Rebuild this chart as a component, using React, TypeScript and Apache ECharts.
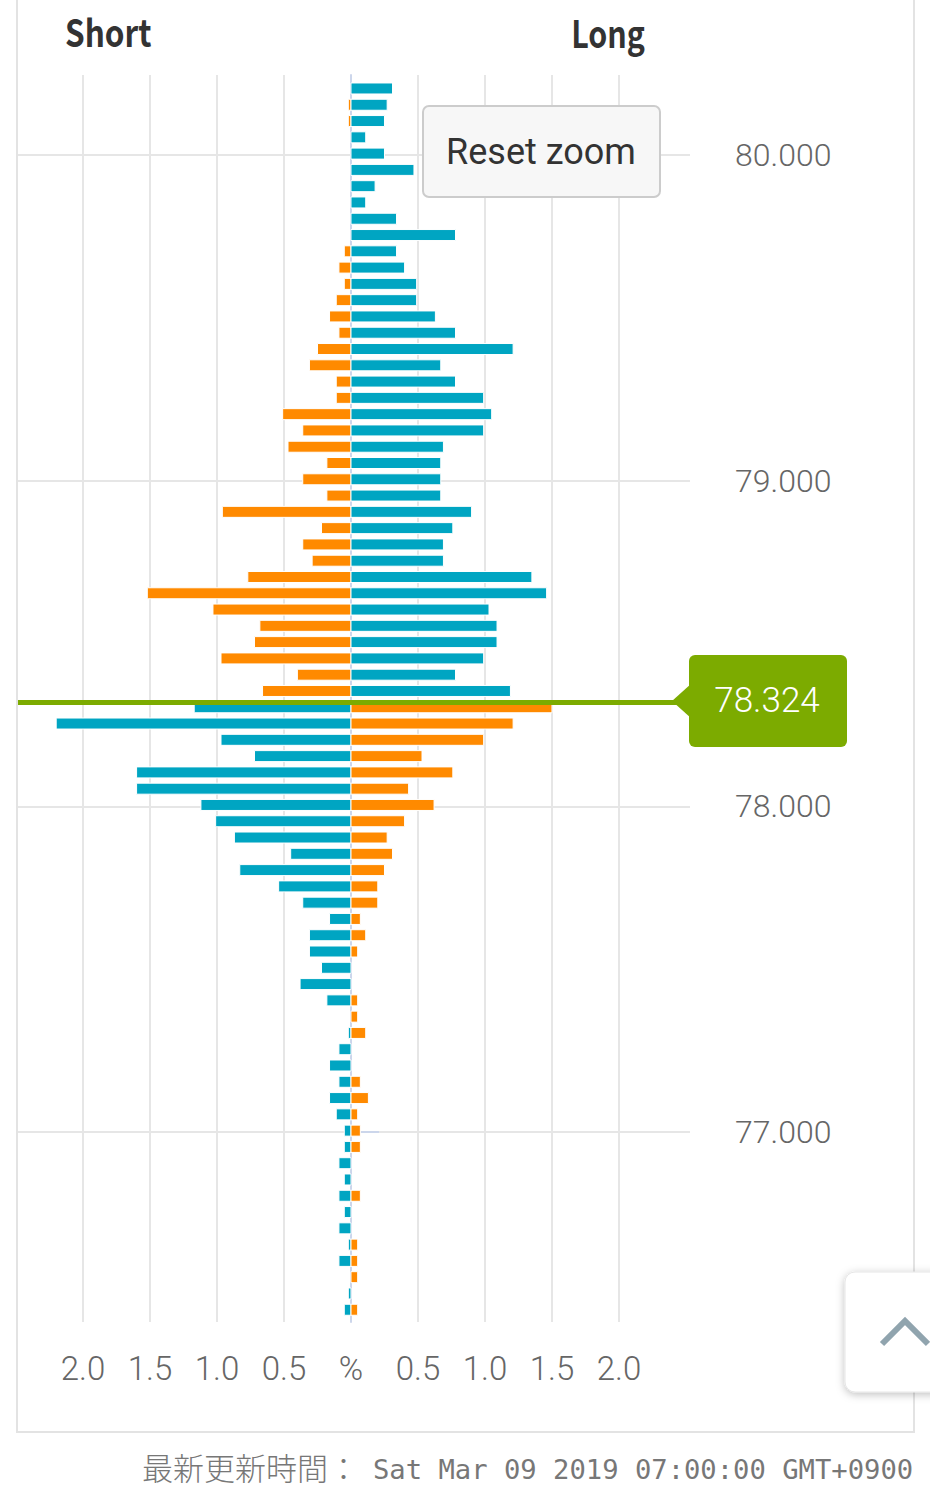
import React, { useEffect, useRef } from "react";
import * as echarts from "echarts";

// Price buckets (descending), 0.05 step
const PRICES = [
  80.2, 80.15, 80.1, 80.05, 80.0, 79.95, 79.9, 79.85, 79.8, 79.75,
  79.7, 79.65, 79.6, 79.55, 79.5, 79.45, 79.4, 79.35, 79.3, 79.25,
  79.2, 79.15, 79.1, 79.05, 79.0, 78.95, 78.9, 78.85, 78.8, 78.75,
  78.7, 78.65, 78.6, 78.55, 78.5, 78.45, 78.4, 78.35, 78.3, 78.25,
  78.2, 78.15, 78.1, 78.05, 78.0, 77.95, 77.9, 77.85, 77.8, 77.75,
  77.7, 77.65, 77.6, 77.55, 77.5, 77.45, 77.4, 77.35, 77.3, 77.25,
  77.2, 77.15, 77.1, 77.05, 77.0, 76.95, 76.9, 76.85, 76.8, 76.75,
  76.7, 76.65, 76.6, 76.55, 76.5, 76.45,
];

// Short positions (%), same order as PRICES
const SHORT = [
  0, 0.02, 0.02, 0, 0, 0, 0, 0, 0, 0,
  0.05, 0.09, 0.05, 0.11, 0.16, 0.09, 0.25, 0.31, 0.11, 0.11,
  0.51, 0.36, 0.47, 0.18, 0.36, 0.18, 0.96, 0.22, 0.36, 0.29,
  0.77, 1.52, 1.03, 0.68, 0.72, 0.97, 0.4, 0.66, 1.17, 2.2,
  0.97, 0.72, 1.6, 1.6, 1.12, 1.01, 0.87, 0.45, 0.83, 0.54,
  0.36, 0.16, 0.31, 0.31, 0.22, 0.38, 0.18, 0, 0.02, 0.09,
  0.16, 0.09, 0.16, 0.11, 0.05, 0.05, 0.09, 0.05, 0.09, 0.05,
  0.09, 0.02, 0.09, 0, 0.02, 0.05,
];

// Long positions (%), same order as PRICES
const LONG = [
  0.31, 0.27, 0.25, 0.11, 0.25, 0.47, 0.18, 0.11, 0.34, 0.78,
  0.34, 0.4, 0.49, 0.49, 0.63, 0.78, 1.21, 0.67, 0.78, 0.99,
  1.05, 0.99, 0.69, 0.67, 0.67, 0.67, 0.9, 0.76, 0.69, 0.69,
  1.35, 1.46, 1.03, 1.09, 1.09, 0.99, 0.78, 1.19, 1.5, 1.21,
  0.99, 0.53, 0.76, 0.43, 0.62, 0.4, 0.27, 0.31, 0.25, 0.2,
  0.2, 0.07, 0.11, 0.05, 0, 0, 0.05, 0.05, 0.11, 0,
  0, 0.07, 0.13, 0.05, 0.07, 0.07, 0, 0, 0.07, 0,
  0, 0.05, 0.05, 0.05, 0, 0.05,
];

const CURRENT_PRICE = 78.324;
const X_TICKS = [-2, -1.5, -1, -0.5, 0, 0.5, 1, 1.5, 2];
const Y_TICKS = [77, 78, 79, 80];
const TITLES = ["Short", "Long"];
const RESET_LABEL = "Reset zoom";
const FOOTER_LABEL = "最新更新時間：";
const FOOTER_TIME = "Sat Mar 09 2019 07:00:00 GMT+0900";

const BLUE = "#00a5c2";
const ORANGE = "#ff8a00";
const GREEN = "#7cab00";
const GRID_COLOR = "#e6e6e6";
const AXIS_COLOR = "#ccd6eb";
const LABEL_COLOR = "#666666";

export default function App() {
  const ref = useRef<HTMLDivElement>(null);

  useEffect(() => {
    document.body.style.margin = "0";
    const chart = echarts.init(ref.current!, null, { renderer: "svg" });

    const makeRender = (side: "short" | "long") => (params: any, api: any) => {
      const v = api.value(0) as number;
      const p = api.value(1) as number;
      if (!v) return null;
      const a = api.coord([0, p]);
      const b = api.coord([v, p]);
      const h = 11;
      const above = p > CURRENT_PRICE;
      const fill =
        side === "short" ? (above ? ORANGE : BLUE) : above ? BLUE : ORANGE;
      return {
        type: "rect",
        shape: {
          x: Math.min(a[0], b[0]),
          y: a[1] - h / 2 - 1.5,
          width: Math.abs(b[0] - a[0]),
          height: h,
        },
        style: { fill, stroke: "#ffffff", lineWidth: 1 },
      };
    };

    chart.setOption({
      animation: false,
      backgroundColor: "#ffffff",
      grid: { left: 18, right: 240, top: 75, bottom: 168, containLabel: false },
      xAxis: {
        type: "value",
        min: -2.485,
        max: 2.53,
        axisLine: { show: false },
        axisTick: { show: false, customValues: X_TICKS },
        splitLine: { show: true, lineStyle: { color: GRID_COLOR, width: 2 } },
        axisLabel: {
          customValues: X_TICKS,
          formatter: (v: number) => (v === 0 ? "%" : Math.abs(v).toFixed(1)),
          fontSize: 33,
          fontFamily: "Roboto",
          fontWeight: 300,
          color: LABEL_COLOR,
          margin: 30,
        },
      },
      yAxis: {
        type: "value",
        position: "right",
        min: 76.417,
        max: 80.246,
        axisLine: { show: true, lineStyle: { color: AXIS_COLOR, width: 2 } },
        axisTick: {
          show: true,
          customValues: Y_TICKS,
          length: 28,
          lineStyle: { color: AXIS_COLOR, width: 2 },
        },
        splitLine: { show: true, lineStyle: { color: GRID_COLOR, width: 2 } },
        axisLabel: {
          customValues: Y_TICKS,
          formatter: (v: number) => v.toFixed(3),
          fontSize: 32,
          fontFamily: "Roboto",
          fontWeight: 300,
          color: LABEL_COLOR,
          margin: 45,
        },
      },
      series: [
        {
          name: "Short",
          type: "custom",
          coordinateSystem: "cartesian2d",
          encode: { x: 0, y: 1 },
          renderItem: makeRender("short"),
          data: PRICES.map((p, i) => [-SHORT[i], p]),
        },
        {
          name: "Long",
          type: "custom",
          coordinateSystem: "cartesian2d",
          encode: { x: 0, y: 1 },
          renderItem: makeRender("long"),
          data: PRICES.map((p, i) => [LONG[i], p]),
          markLine: {
            silent: true,
            symbol: ["none", "none"],
            label: { show: false },
            lineStyle: { color: GREEN, width: 5, type: "solid" },
            data: [{ yAxis: CURRENT_PRICE }],
            z: 10,
          },
        },
      ],
    });

    const py = chart.convertToPixel({ yAxisIndex: 0 }, CURRENT_PRICE) as number;

    chart.setOption({
      graphic: [
        // outer frame
        {
          type: "rect",
          shape: { x: 17, y: -10, width: 897, height: 1442 },
          style: { fill: "none", stroke: "#e3e3e3", lineWidth: 2 },
          z: 1,
        },
        {
          type: "text",
          x: 65,
          y: 31,
          scaleX: 0.83,
          style: {
            text: TITLES[0],
            x: 0,
            y: 0,
            verticalAlign: "middle",
            fontSize: 38,
            fontWeight: "bold",
            fontFamily: "'Noto Sans CJK JP'",
            fill: "#333333",
          },
        },
        {
          type: "text",
          x: 645,
          y: 31,
          scaleX: 0.8,
          style: {
            text: TITLES[1],
            x: 0,
            y: 0,
            align: "right",
            verticalAlign: "middle",
            fontSize: 38,
            fontWeight: "bold",
            fontFamily: "'Noto Sans CJK JP'",
            fill: "#333333",
          },
        },
        // reset zoom button
        {
          type: "rect",
          shape: { x: 423, y: 106, width: 237, height: 91, r: 6 },
          style: { fill: "#f7f7f7", stroke: "#cccccc", lineWidth: 2 },
          z: 20,
        },
        {
          type: "text",
          style: {
            text: RESET_LABEL,
            x: 541,
            y: 152,
            align: "center",
            verticalAlign: "middle",
            fontSize: 36,
            fontFamily: "Roboto",
            fill: "#333333",
          },
          z: 21,
        },
        // current price label
        {
          type: "polygon",
          shape: { points: [[672, py], [692, py - 18], [692, py + 18]] },
          style: { fill: GREEN },
          z: 20,
        },
        {
          type: "rect",
          shape: { x: 689, y: py - 46, width: 158, height: 92, r: 6 },
          style: { fill: GREEN },
          z: 20,
        },
        {
          type: "text",
          style: {
            text: CURRENT_PRICE.toFixed(3),
            x: 767,
            y: py,
            align: "center",
            verticalAlign: "middle",
            fontSize: 35,
            fontFamily: "Roboto",
            fontWeight: 300,
            fill: "#ffffff",
          },
          z: 21,
        },
        // scroll-to-top button
        {
          type: "rect",
          shape: { x: 845, y: 1272, width: 110, height: 120, r: 10 },
          style: {
            fill: "#ffffff",
            stroke: "#e6e6e6",
            lineWidth: 1,
            shadowBlur: 8,
            shadowColor: "rgba(0,0,0,0.25)",
            shadowOffsetY: 2,
          },
          z: 20,
        },
        {
          type: "polyline",
          shape: { points: [[882, 1344], [905, 1321], [928, 1344]] },
          style: { stroke: "#90a4ae", lineWidth: 6, fill: "none" },
          z: 21,
        },
        // footer
        {
          type: "text",
          style: {
            text: FOOTER_LABEL,
            x: 142,
            y: 1466,
            verticalAlign: "middle",
            fontSize: 31,
            fontFamily: "'Noto Sans CJK JP'",
            fontWeight: 300,
            fill: "#777777",
          },
        },
        {
          type: "text",
          style: {
            text: FOOTER_TIME,
            x: 373,
            y: 1469,
            verticalAlign: "middle",
            fontSize: 27.2,
            fontFamily: "'DejaVu Sans Mono', monospace",
            fill: "#777777",
          },
        },
      ],
    });

    return () => chart.dispose();
  }, []);

  return <div ref={ref} style={{ width: 930, height: 1490 }} />;
}
